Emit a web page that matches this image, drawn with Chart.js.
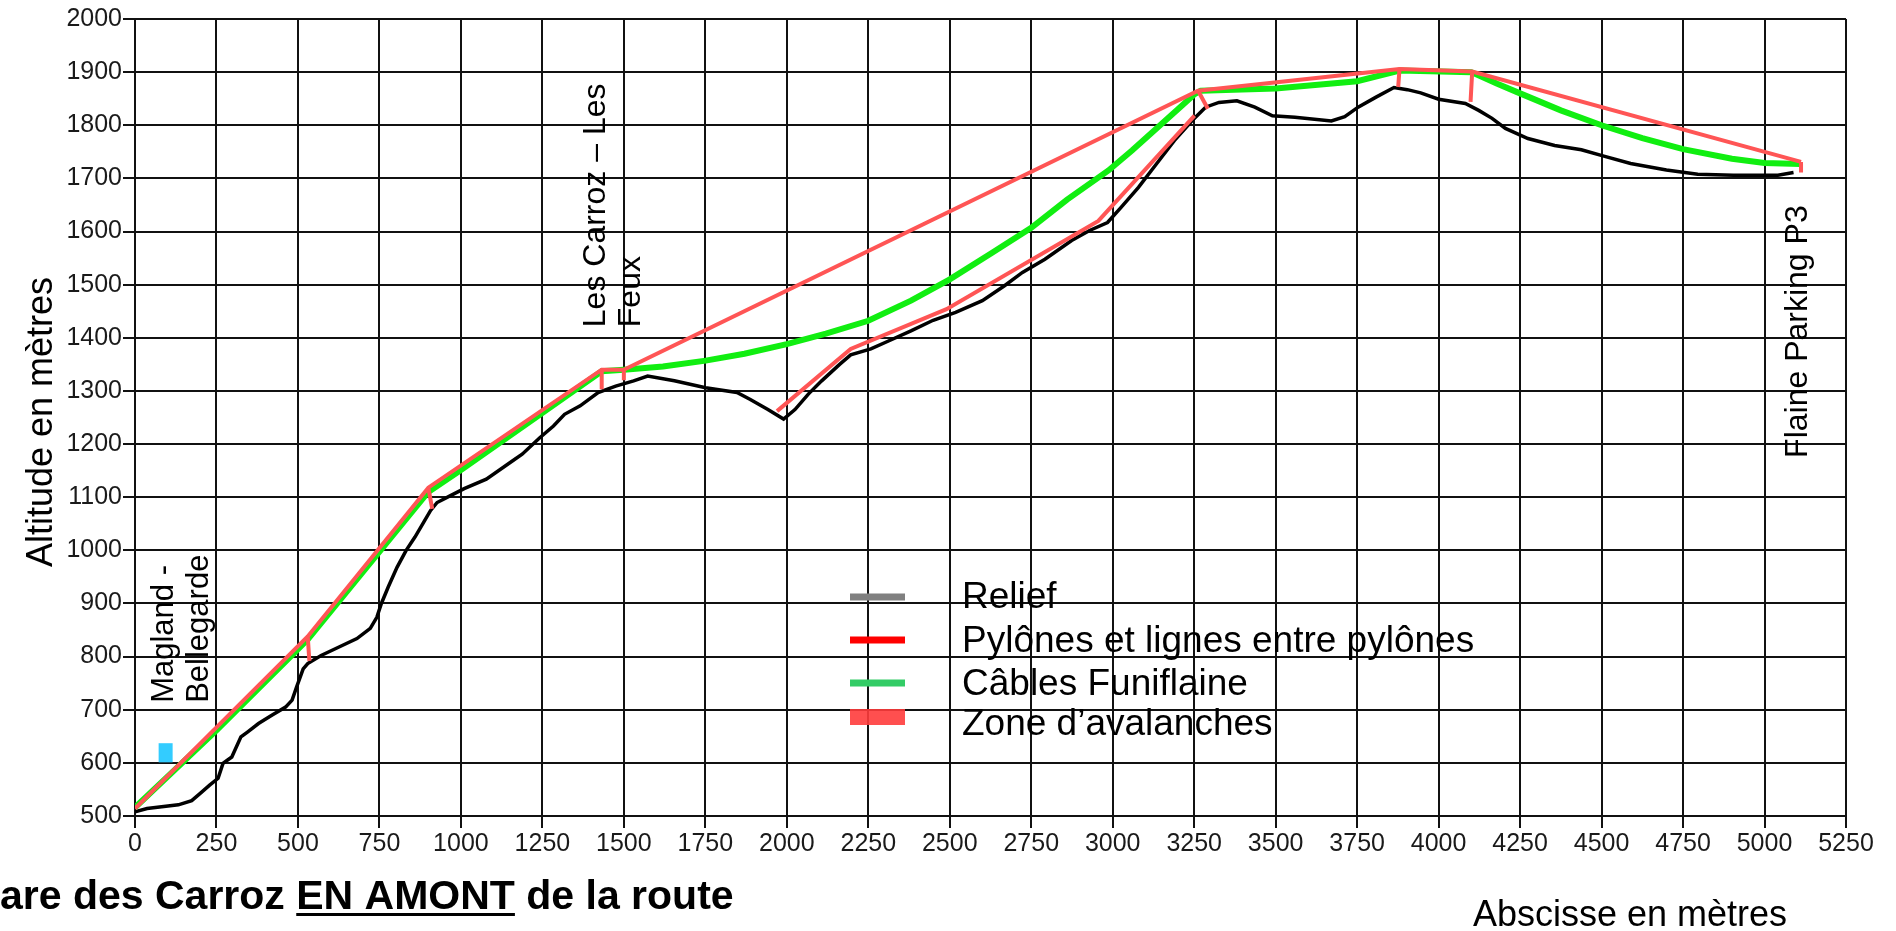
<!DOCTYPE html>
<html lang="fr">
<head>
    <meta charset="UTF-8">
    <title>Profil Funiflaine</title>
    <script src="https://cdn.jsdelivr.net/npm/chart.js"></script>
    <style>
        html, body { margin: 0; padding: 0; background: #fff; }
        #wrap { width: 1896px; height: 931px; }
    </style>
</head>
<body>
    <div id="wrap">
        <canvas id="profil" width="1896" height="931"></canvas>
    </div>
    <script>
        // graduations
        const xTicks = [0, 250, 500, 750, 1000, 1250, 1500, 1750, 2000, 2250, 2500, 2750, 3000,
            3250, 3500, 3750, 4000, 4250, 4500, 4750, 5000, 5250];
        const yTicks = [500, 600, 700, 800, 900, 1000, 1100, 1200, 1300, 1400, 1500, 1600, 1700, 1800, 1900, 2000];

        // relief (abscisse, altitude)
        const reliefX = [0, 37, 133, 174, 201, 229, 255, 270, 297, 325, 345, 379, 421, 462, 482, 496, 516, 530,
            571, 626, 681, 722, 742, 756, 777, 804, 832, 859, 886, 907, 927, 968, 1010, 1078, 1160, 1188,
            1242, 1284, 1318, 1366, 1421, 1475, 1530, 1573, 1655, 1751, 1847, 1888, 1942, 1990, 2025, 2066,
            2107, 2162, 2196, 2258, 2312, 2381, 2449, 2518, 2600, 2668, 2723, 2792, 2874, 2929, 2984, 3025,
            3079, 3134, 3189, 3244, 3285, 3326, 3381, 3436, 3490, 3559, 3671, 3712, 3753, 3808, 3863, 3904,
            3945, 4000, 4082, 4123, 4164, 4205, 4274, 4356, 4438, 4507, 4589, 4699, 4795, 4904, 5041, 5089];
        const reliefY = [508, 514, 521, 529, 543, 558, 571, 599, 611, 649, 658, 674, 690, 705, 718, 743, 777, 787,
            802, 818, 834, 853, 874, 900, 931, 968, 1000, 1025, 1053, 1075, 1090, 1103, 1116, 1134, 1169, 1181,
            1212, 1234, 1256, 1272, 1297, 1309, 1319, 1328, 1319, 1306, 1297, 1284, 1265, 1247, 1265, 1294,
            1319, 1350, 1368, 1379, 1394, 1413, 1433, 1448, 1470, 1498, 1523, 1548, 1583, 1602, 1617, 1645,
            1683, 1727, 1771, 1809, 1834, 1843, 1846, 1834, 1818, 1815, 1808, 1816, 1834, 1853, 1871, 1867,
            1861, 1849, 1841, 1828, 1813, 1794, 1775, 1762, 1754, 1742, 1728, 1716, 1708, 1706, 1706, 1711];

        // pylônes et lignes entre pylônes (null = coupure)
        const pylonesX = [0, 530, 900, 1432, 1500, 3262, 3880, 4103, 5112, null,
            530, 535, null, 900, 912, null, 1432, 1432, null, 1500, 1500, null,
            3262, 3292, null, 3880, 3876, null, 4103, 4098, null, 5112, 5112, null,
            1970, 2196, 2490, 2956, 3251];
        const pylonesY = [514, 838, 1118, 1340, 1340, 1865, 1906, 1901, 1731, null,
            838, 792, null, 1118, 1078, null, 1340, 1303, null, 1340, 1320, null,
            1865, 1831, null, 1906, 1872, null, 1901, 1844, null, 1731, 1711, null,
            1262, 1379, 1454, 1620, 1818];

        // câbles Funiflaine
        const cablesX = [0, 250, 530, 900, 1000, 1432, 1500, 1620, 1751, 1870, 2000, 2120, 2250, 2381, 2500,
            2630, 2750, 2860, 2987, 3060, 3136, 3200, 3250, 3270, 3500, 3750, 3880, 4100, 4180, 4250, 4375,
            4500, 4625, 4750, 4900, 5000, 5110];
        const cablesY = [516, 661, 832, 1110, 1151, 1337, 1340, 1346, 1357, 1370, 1388, 1408, 1432, 1470, 1510,
            1560, 1607, 1660, 1715, 1753, 1795, 1830, 1858, 1865, 1869, 1883, 1903, 1900, 1878, 1860, 1828,
            1800, 1776, 1755, 1737, 1729, 1727];

        // repère cyan près du départ
        const repereX = [94, 94];
        const repereY = [601, 637];

        const legendLabels = ['Relief', 'Pylônes et lignes entre pylônes', 'Câbles Funiflaine', 'Zone d’avalanches'];
        const legendColors = ['#808080', '#ff0000', '#33cc66', 'rgba(255, 60, 60, 0.9)'];

        function points(xs, ys) {
            return xs.map(function (x, i) { return { x: x, y: ys[i] }; });
        }

        const police = '"Liberation Sans", Arial, sans-serif';

        const decor = {
            id: 'decor',
            afterDraw: function (chart) {
                const ctx = chart.ctx;
                const sx = chart.scales.x;
                const sy = chart.scales.y;
                ctx.save();
                ctx.fillStyle = '#000';

                // textes verticaux
                function vertical(lines, xm, ym, size) {
                    ctx.save();
                    ctx.translate(sx.getPixelForValue(xm), sy.getPixelForValue(ym));
                    ctx.rotate(-Math.PI / 2);
                    ctx.font = size + 'px ' + police;
                    ctx.textAlign = 'left';
                    ctx.textBaseline = 'alphabetic';
                    for (let i = 0; i < lines.length; i++) {
                        ctx.fillText(lines[i], 0, i * 35);
                    }
                    ctx.restore();
                }
                vertical(['Magland -', 'Bellegarde'], 117, 713, 31);
                vertical(['Les Carroz – Les', 'Feux'], 1442, 1420, 32);
                vertical(['Flaine Parking P3'], 5130, 1174, 32);

                // légende
                const lx = 850, lw = 55;
                const rows = [597, 640, 683, 717];
                const textRows = [598, 642, 685, 725];
                ctx.font = '37px ' + police;
                ctx.textAlign = 'left';
                ctx.textBaseline = 'middle';
                for (let i = 0; i < legendLabels.length; i++) {
                    ctx.fillStyle = legendColors[i];
                    if (i === 3) {
                        ctx.fillRect(lx, rows[i] - 8, lw, 16);
                    } else {
                        ctx.fillRect(lx, rows[i] - 3.5, lw, 7);
                    }
                    ctx.fillStyle = '#000';
                    ctx.fillText(legendLabels[i], 962, textRows[i]);
                }

                // titre de l'axe Y
                ctx.save();
                ctx.translate(52, 422);
                ctx.rotate(-Math.PI / 2);
                ctx.font = '36px ' + police;
                ctx.textAlign = 'center';
                ctx.textBaseline = 'alphabetic';
                ctx.fillText('Altitude en mètres', 0, 0);
                ctx.restore();

                // titre de l'axe X
                ctx.font = '36px ' + police;
                ctx.textAlign = 'left';
                ctx.textBaseline = 'alphabetic';
                ctx.fillText('Abscisse en mètres', 1473, 926);

                // titre en bas à gauche
                ctx.font = 'bold 41px ' + police;
                let x = 0;
                const base = 909;
                const parts = [['are des Carroz ', false], ['EN AMONT', true], [' de la route', false]];
                for (const p of parts) {
                    const w = ctx.measureText(p[0]).width;
                    ctx.fillText(p[0], x, base);
                    if (p[1]) {
                        ctx.fillRect(x, base + 4, w, 3);
                    }
                    x += w;
                }
                ctx.restore();
            }
        };

        const grille = { color: '#111', lineWidth: 2, tickLength: 12, drawTicks: true };

        new Chart(document.getElementById('profil'), {
            type: 'scatter',
            data: {
                datasets: [
                    {
                        label: 'Pylônes et lignes entre pylônes',
                        data: points(pylonesX, pylonesY),
                        showLine: true,
                        borderColor: '#ff5555',
                        borderWidth: 4,
                        pointRadius: 0,
                        spanGaps: false,
                        order: 0
                    },
                    {
                        label: 'Câbles Funiflaine',
                        data: points(cablesX, cablesY),
                        showLine: true,
                        borderColor: '#11ee11',
                        borderWidth: 6,
                        pointRadius: 0,
                        order: 1
                    },
                    {
                        label: 'Relief',
                        data: points(reliefX, reliefY),
                        showLine: true,
                        borderColor: '#000',
                        borderWidth: 3.5,
                        pointRadius: 0,
                        order: 2
                    },
                    {
                        label: 'Repère',
                        data: points(repereX, repereY),
                        showLine: true,
                        borderColor: '#33ccff',
                        borderWidth: 14,
                        pointRadius: 0,
                        order: 3
                    }
                ]
            },
            options: {
                responsive: false,
                animation: false,
                devicePixelRatio: 1,
                layout: { padding: { top: 19, right: 50, left: 0, bottom: 0 } },
                plugins: {
                    legend: { display: false },
                    tooltip: { enabled: false }
                },
                scales: {
                    x: {
                        type: 'linear',
                        min: 0,
                        max: 5250,
                        afterBuildTicks: function (s) { s.ticks = xTicks.map(function (v) { return { value: v }; }); },
                        afterFit: function (s) { s.height = 115; },
                        ticks: {
                            autoSkip: false, maxRotation: 0, padding: 1, color: '#1a1a1a',
                            font: { family: police, size: 25 },
                            callback: function (v) { return String(v); }
                        },
                        grid: grille,
                        border: { color: '#111', width: 2 }
                    },
                    y: {
                        type: 'linear',
                        min: 500,
                        max: 2000,
                        afterBuildTicks: function (s) { s.ticks = yTicks.map(function (v) { return { value: v }; }); },
                        afterFit: function (s) { s.width = 135; },
                        ticks: {
                            autoSkip: false, padding: 1, color: '#1a1a1a',
                            font: { family: police, size: 25 },
                            callback: function (v) { return String(v); }
                        },
                        grid: grille,
                        border: { color: '#111', width: 2 }
                    }
                }
            },
            plugins: [decor]
        });
    </script>
</body>
</html>
